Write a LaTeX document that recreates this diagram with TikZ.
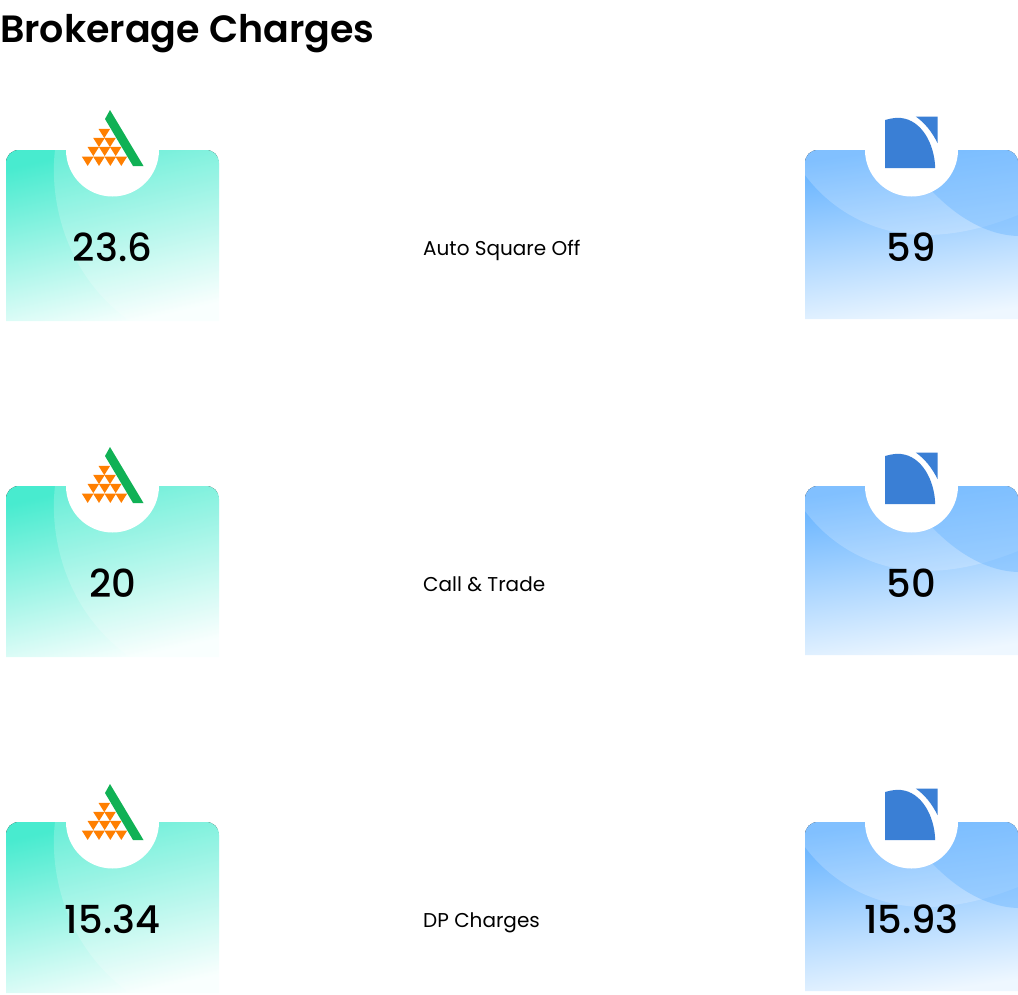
\documentclass[tikz,border=0pt]{standalone}
\usepackage{fontspec}
\setmainfont{Poppins}
\newfontfamily\semib{Poppins SemiBold}
\newfontfamily\medi{Poppins Medium}
\definecolor{tealA}{HTML}{48EBCF}
\definecolor{tealB}{HTML}{A8F5E6}
\definecolor{tealC}{HTML}{F8FFFE}
\definecolor{blueA}{HTML}{62B1FF}
\definecolor{blueB}{HTML}{94CBFF}
\definecolor{blueC}{HTML}{EEF7FF}
\definecolor{blueDark}{HTML}{6FB8FF}
\definecolor{logoBlue}{HTML}{3A7FD5}
\definecolor{logoGreen}{HTML}{10B155}
\definecolor{logoOrange}{HTML}{FF7F00}
\tikzset{
  tealcard/.style={top color=tealA,middle color=tealB,bottom color=tealC,shading angle=13},
  bluecard/.style={top color=blueA,middle color=blueB,bottom color=blueC,shading angle=8},
  notch/.style={fill=white},
  value/.style={font=\medi\fontsize{38.5}{42}\selectfont,text=black,anchor=base,inner sep=0pt},
  rowlabel/.style={font=\fontsize{20}{24}\selectfont,text=black,anchor=base west,inner sep=0pt},
  heading/.style={font=\semib\fontsize{38}{44}\selectfont,text=black,anchor=base west,inner sep=0pt},
  tri/.style={fill=logoOrange},
}
\newcommand{\tridown}[2]{\fill[tri] (#1-5.8,#2-4.6) -- (#1+5.8,#2-4.6) -- (#1,#2+4.6) -- cycle;}
\begin{document}
\begin{tikzpicture}[x=1pt,y=-1pt]
\useasboundingbox (0,0) rectangle (1018,994);
\node[heading] (title) at (0,42) {Brokerage Charges};
\foreach \r/\lv/\mid/\rv in {0/23.6/Auto Square Off/59,1/20/Call \& Trade/50,2/15.34/DP Charges/15.93}{
  \begin{scope}[yshift={-336pt*\r}]
    % left card
    \begin{scope}
      \clip (6,321) -- (6,163) .. controls (6,155.5) and (11.5,150) .. (19,150) -- (206,150) .. controls (213.5,150) and (219,155.5) .. (219,163) -- (219,321) -- cycle;
      \fill[tealcard] (6,150) rectangle (219,321);
      \fill[white,opacity=.2] (55,150) .. controls (49,200) and (65,275) .. (130,321) -- (219,321) -- (219,150) -- cycle;
    \end{scope}
    \fill[notch] (112.5,150) circle[radius=46.5];
    % right card
    \begin{scope}
      \clip (805,319) -- (805,163) .. controls (805,155.5) and (810.5,150) .. (818,150) -- (1005,150) .. controls (1012.5,150) and (1018,155.5) .. (1018,163) -- (1018,319) -- cycle;
      \fill[bluecard] (805,150) rectangle (1018,319);
      \fill[white,opacity=.2] (805,175) .. controls (835,215) and (880,235) .. (925,235) .. controls (960,235) and (990,226) .. (1018,215) -- (1018,150) -- (805,150) -- cycle;
      \fill[blueDark,opacity=.45] (905,150) -- (933,192) .. controls (955,215) and (985,235) .. (1018,236) -- (1018,150) -- cycle;
    \end{scope}
    \fill[notch] (911.5,150) circle[radius=46.5];
    % right logo
    \fill[logoBlue] (885,168) -- (885,120) .. controls (892,118) and (897,117.5) .. (901,118) .. controls (921,120) and (934.5,143) .. (935.2,168) -- cycle;
    \fill[logoBlue] (915.7,116.5) -- (937.5,116.5) -- (937.5,143) .. controls (932,132) and (925,123) .. (915.7,116.5) -- cycle;
    % left logo
    \begin{scope}[yshift={-1pt*\r}]
      \fill[logoGreen] (110,110) -- (105,119) -- (133,166) -- (143.5,166) -- cycle;
      \tridown{104.3}{133.5}
      \tridown{99}{142.5}\tridown{110}{142.5}
      \tridown{93.3}{151.5}\tridown{104.7}{151.5}\tridown{115.7}{151.5}
      \tridown{87.7}{161.3}\tridown{99}{161.3}\tridown{110.3}{161.3}\tridown{121.3}{161.3}
    \end{scope}
    \node[value] (left\r) at (112.5,261) {\lv};
    \node[value] (right\r) at (911.5,261) {\rv};
    \node[rowlabel] (mid\r) at (423,255) {\mid};
  \end{scope}
}
\end{tikzpicture}
\end{document}
